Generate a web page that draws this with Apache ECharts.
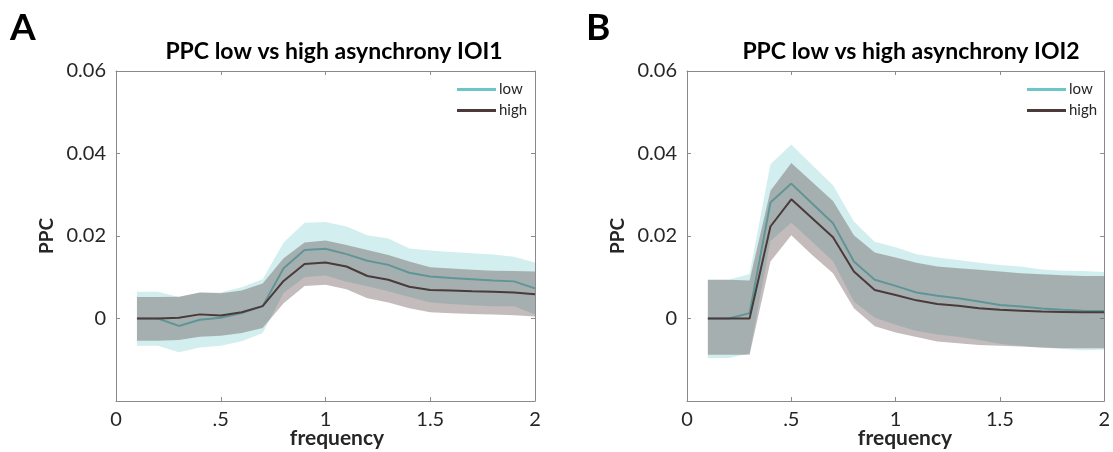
<!DOCTYPE html>
<html>
<head>
<meta charset="utf-8">
<script src="https://cdn.jsdelivr.net/npm/echarts@6/dist/echarts.min.js"></script>
<style>
  html, body { margin: 0; padding: 0; background: #fff; }
  #chart { width: 1113px; height: 452px; }
</style>
</head>
<body>
<div id="chart"></div>
<script>
// frecuencias (eje x)
const freq = [0.1, 0.2, 0.3, 0.4, 0.5, 0.6, 0.7, 0.8, 0.9, 1.0, 1.1, 1.2, 1.3, 1.4, 1.5, 1.6, 1.7, 1.8, 1.9, 2.0];

// etiquetas de los ejes
const xTickLabels = ['0', '.5', '1', '1.5', '2'];
const yTickLabels = ['', '0', '0.02', '0.04', '0.06'];
const panelTitles = ['PPC low vs high asynchrony IOI1', 'PPC low vs high asynchrony IOI2'];
const panelLetters = ['A', 'B'];

// Panel A (IOI1)
const lowA    = [0, 0, -0.0018, -0.0003, 0.0002, 0.0013, 0.003, 0.0122, 0.0166, 0.0169, 0.0156, 0.014, 0.013, 0.0111, 0.0102, 0.0098, 0.0095, 0.0092, 0.009, 0.0073];
const lowAUp  = [0.0065, 0.0065, 0.0052, 0.0063, 0.0063, 0.0076, 0.0095, 0.0184, 0.0232, 0.0234, 0.0223, 0.0202, 0.0194, 0.017, 0.0165, 0.0161, 0.0158, 0.0155, 0.015, 0.0136];
const lowALo  = [-0.0066, -0.0066, -0.0082, -0.007, -0.0066, -0.0055, -0.0035, 0.0062, 0.01, 0.0104, 0.0089, 0.0078, 0.0066, 0.0052, 0.0039, 0.0035, 0.0032, 0.003, 0.003, 0.001];
const highA   = [0, 0, 0.0002, 0.001, 0.0007, 0.0015, 0.003, 0.0091, 0.0132, 0.0136, 0.0126, 0.0103, 0.0094, 0.0077, 0.0069, 0.0068, 0.0066, 0.0065, 0.0063, 0.0059];
const highAUp = [0.0052, 0.0052, 0.0053, 0.0063, 0.0061, 0.0068, 0.0085, 0.0146, 0.0184, 0.0189, 0.0178, 0.0166, 0.0154, 0.0138, 0.0124, 0.0121, 0.0118, 0.0116, 0.0115, 0.0114];
const highALo = [-0.0054, -0.0054, -0.0052, -0.0044, -0.0042, -0.0035, -0.0023, 0.0037, 0.0079, 0.0082, 0.0071, 0.0049, 0.0039, 0.0025, 0.0015, 0.0013, 0.0011, 0.001, 0.0008, 0.0005];

// Panel B (IOI2)
const lowB    = [0, 0, 0.0013, 0.0281, 0.0327, 0.0279, 0.0231, 0.0138, 0.0094, 0.0079, 0.0063, 0.0055, 0.0049, 0.0041, 0.0033, 0.0029, 0.0024, 0.0021, 0.0019, 0.0018];
const lowBUp  = [0.0094, 0.0094, 0.0108, 0.0374, 0.0422, 0.0372, 0.0323, 0.0235, 0.0186, 0.0173, 0.0156, 0.0148, 0.0142, 0.0135, 0.013, 0.0126, 0.0119, 0.0116, 0.0115, 0.0113];
const lowBLo  = [-0.0096, -0.0096, -0.0085, 0.0188, 0.0232, 0.0186, 0.0139, 0.0041, 0.0002, -0.0015, -0.003, -0.0039, -0.0044, -0.0052, -0.0061, -0.0066, -0.0071, -0.0074, -0.0077, -0.0076];
const highB   = [0, 0, 0, 0.0223, 0.0289, 0.0243, 0.0197, 0.0114, 0.0069, 0.0057, 0.0044, 0.0035, 0.0031, 0.0025, 0.0021, 0.0019, 0.0017, 0.0016, 0.0015, 0.0015];
const highBUp = [0.0094, 0.0094, 0.0092, 0.031, 0.0377, 0.0331, 0.0285, 0.0202, 0.016, 0.0148, 0.0135, 0.0126, 0.0122, 0.0118, 0.0114, 0.011, 0.0107, 0.0105, 0.0103, 0.0103];
const highBLo = [-0.0088, -0.0088, -0.0088, 0.0138, 0.0202, 0.0154, 0.011, 0.0025, -0.0019, -0.0034, -0.0045, -0.0056, -0.006, -0.0064, -0.0066, -0.0068, -0.007, -0.0072, -0.0072, -0.0072];

const panels = [
    { low: lowA, lowUp: lowAUp, lowLo: lowALo, high: highA, highUp: highAUp, highLo: highALo },
    { low: lowB, lowUp: lowBUp, lowLo: lowBLo, high: highB, highUp: highBUp, highLo: highBLo },
];

const LOW_COLOR = '#6cc6c8';
const HIGH_COLOR = '#4a3a3a';
const HIGH_BAND = '#4a3035';
const FONT = 'Lato';
const TEXT_COLOR = '#262626';
const AXIS_COLOR = '#8a8a8a';

// posiciones de cada panel
const grids = [
    { left: 116, top: 71, width: 419, height: 330 },
    { left: 687, top: 71, width: 418, height: 330 },
];
const titleX = [334, 911];
const xNameX = [337, 905];
const letterX = [10, 586];
const legendX = [457, 1027];

// banda sombreada (error) como polígono
function bandSeries(gi, lo, hi, color, opacity, z) {
    return {
        type: 'custom',
        xAxisIndex: gi * 2,
        yAxisIndex: gi * 2,
        z: z,
        silent: true,
        data: freq.map((f, i) => [f, lo[i], hi[i]]),
        encode: { x: 0, y: 1 },
        renderItem: (params, api) => {
            if (params.dataIndex !== 0) return;
            const pts = [];
            for (let i = 0; i < freq.length; i++) pts.push(api.coord([freq[i], hi[i]]));
            for (let i = freq.length - 1; i >= 0; i--) pts.push(api.coord([freq[i], lo[i]]));
            return { type: 'polygon', shape: { points: pts }, style: { fill: color, opacity: opacity } };
        },
    };
}

function lineSeries(gi, name, vals, color, z) {
    return {
        type: 'line',
        name: name,
        xAxisIndex: gi * 2,
        yAxisIndex: gi * 2,
        z: z,
        symbol: 'none',
        silent: true,
        data: freq.map((f, i) => [f, vals[i]]),
        lineStyle: { color: color, width: 2 },
        itemStyle: { color: color },
    };
}

const xAxes = [];
const yAxes = [];
const series = [];
const titles = [];
const legends = [];

grids.forEach((g, gi) => {
    const p = panels[gi];
    ['bottom', 'top'].forEach(pos => {
        xAxes.push({
            type: 'value', gridIndex: gi, position: pos, min: 0, max: 2, interval: 0.5,
            axisLine: { show: true, onZero: false, lineStyle: { color: AXIS_COLOR, width: 1 } },
            axisTick: { show: true, inside: true, length: 4, lineStyle: { color: AXIS_COLOR } },
            splitLine: { show: false },
            axisLabel: {
                show: pos === 'bottom', margin: 9, fontFamily: FONT, fontSize: 20, color: TEXT_COLOR,
                formatter: v => xTickLabels[Math.round(v / 0.5)],
            },
        });
    });
    ['left', 'right'].forEach(pos => {
        yAxes.push({
            type: 'value', gridIndex: gi, position: pos, min: -0.02, max: 0.06, interval: 0.02,
            axisLine: { show: true, onZero: false, lineStyle: { color: AXIS_COLOR, width: 1 } },
            axisTick: { show: true, inside: true, length: 4, lineStyle: { color: AXIS_COLOR } },
            splitLine: { show: false },
            name: pos === 'left' ? 'PPC' : '',
            nameLocation: 'middle',
            nameRotate: 90,
            nameGap: 60,
            nameTextStyle: { fontFamily: FONT, fontSize: 19, fontWeight: 'bold', color: TEXT_COLOR },
            axisLabel: {
                show: pos === 'left', margin: 10, fontFamily: FONT, fontSize: 20, color: TEXT_COLOR,
                formatter: v => yTickLabels[Math.round((v + 0.02) / 0.02)],
            },
        });
    });

    // orden: banda low, línea low, banda high, línea high
    series.push(bandSeries(gi, p.lowLo, p.lowUp, LOW_COLOR, 0.3, 1));
    series.push(lineSeries(gi, 'low', p.low, LOW_COLOR, 2));
    series.push(bandSeries(gi, p.highLo, p.highUp, HIGH_BAND, 0.33, 3));
    series.push(lineSeries(gi, 'high', p.high, HIGH_COLOR, 4));

    titles.push({
        text: panelLetters[gi], left: letterX[gi], top: 10, padding: 0,
        textStyle: { fontFamily: FONT, fontSize: 37, fontWeight: 'bold', color: '#000' },
    });
    titles.push({
        text: panelTitles[gi], left: titleX[gi], top: 40, padding: 0, textAlign: 'center',
        textStyle: { fontFamily: FONT, fontSize: 23, fontWeight: 'bold', color: '#000' },
    });
    titles.push({
        text: 'frequency', left: xNameX[gi], top: 428, padding: 0, textAlign: 'center',
        textStyle: { fontFamily: FONT, fontSize: 21, fontWeight: 'bold', color: TEXT_COLOR },
    });

    legends.push({
        data: ['low', 'high'], orient: 'vertical', left: legendX[gi], top: 82, padding: 0,
        icon: 'rect', itemWidth: 39, itemHeight: 3, itemGap: 6, selectedMode: false,
        textStyle: { fontFamily: FONT, fontSize: 15, color: TEXT_COLOR, lineHeight: 15, padding: [0, 0, 0, -2] },
    });
});

const chart = echarts.init(document.getElementById('chart'));
chart.setOption({
    animation: false,
    backgroundColor: '#fff',
    title: titles,
    legend: legends,
    grid: grids,
    xAxis: xAxes,
    yAxis: yAxes,
    series: series,
});
</script>
</body>
</html>
